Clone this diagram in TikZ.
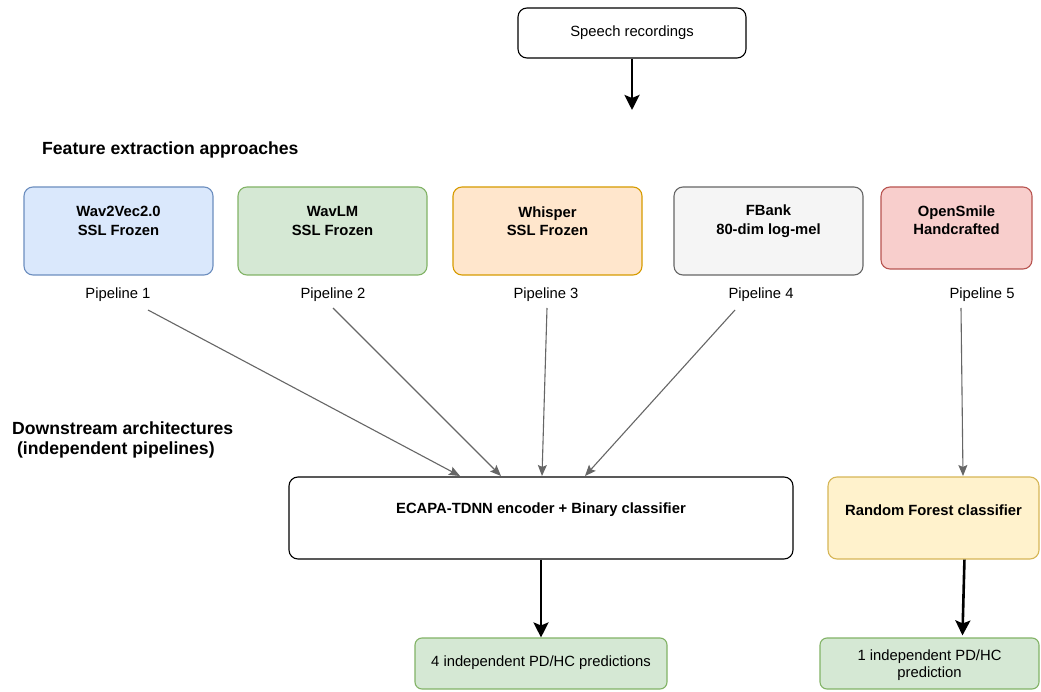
\documentclass[tikz,border=0pt]{standalone}
\usepackage{fontspec}
\setmainfont{Liberation Sans}
\usetikzlibrary{arrows.meta,calc}
\definecolor{bluef}{HTML}{DAE8FC}\definecolor{blues}{HTML}{6C8EBF}
\definecolor{greenf}{HTML}{D5E8D4}\definecolor{greens}{HTML}{82B366}
\definecolor{orf}{HTML}{FFE6CC}\definecolor{ors}{HTML}{D79B00}
\definecolor{grf}{HTML}{F5F5F5}\definecolor{grs}{HTML}{666666}
\definecolor{redf}{HTML}{F8CECC}\definecolor{reds}{HTML}{B85450}
\definecolor{yelf}{HTML}{FFF2CC}\definecolor{yels}{HTML}{D6B656}
\definecolor{arrg}{HTML}{666666}
\begin{document}
\begin{tikzpicture}[x=1pt,y=-1pt,
  box/.style={draw,rounded corners=9pt,line width=1.1pt,inner sep=0pt},
  txt/.style={font=\fontsize{14.8}{17.5}\selectfont,align=center,inner sep=0pt},
  btxt/.style={txt,font=\fontsize{14.8}{18.5}\selectfont\bfseries},
  head/.style={font=\fontsize{17.6}{20.5}\selectfont\bfseries,align=left,inner sep=0pt,anchor=west},
  thk/.style={line width=2.6pt,-{Stealth[length=15pt,width=15pt,inset=3pt]}},
  thn/.style={draw=arrg,line width=1.1pt,-{Stealth[length=11pt,width=9pt,inset=2pt]}}]
\useasboundingbox (0,0) rectangle (1041,692);
\fill[white] (0,0) rectangle (1041,692);
% top
\node[box,fill=white,minimum width=228pt,minimum height=50pt] (sp) at (632,33) {};
\node[txt] (spt) at (632,33) {Speech recordings};
\coordinate (spend) at (632,110);
\draw[thk] (sp.south) -- (spend);
\node[head] (h1) at (42,150) {Feature extraction approaches};
% feature boxes
\node[box,fill=bluef,draw=blues,minimum width=189pt,minimum height=88pt] (b1) at (118.5,231) {};
\node[btxt] (b1t) at (118.5,221) {Wav2Vec2.0\\SSL Frozen};
\node[box,fill=greenf,draw=greens,minimum width=189pt,minimum height=88pt] (b2) at (332.5,231) {};
\node[btxt] (b2t) at (332.5,221) {WavLM\\SSL Frozen};
\node[box,fill=orf,draw=ors,minimum width=189pt,minimum height=88pt] (b3) at (547.5,231) {};
\node[btxt] (b3t) at (547.5,221) {Whisper\\SSL Frozen};
\node[box,fill=grf,draw=grs,minimum width=189pt,minimum height=88pt] (b4) at (768.5,231) {};
\node[btxt] (b4t) at (768.5,221) {FBank\\80-dim log-mel};
\node[box,fill=redf,draw=reds,minimum width=151pt,minimum height=82pt] (b5) at (956.5,228) {};
\node[btxt] (b5t) at (956.5,220) {OpenSmile\\Handcrafted};
% pipeline labels
\node[txt] (p1) at (118,295) {Pipeline 1};
\node[txt] (p2) at (333,295) {Pipeline 2};
\node[txt] (p3) at (546,295) {Pipeline 3};
\node[txt] (p4) at (761,295) {Pipeline 4};
\node[txt] (p5) at (982,295) {Pipeline 5};
% downstream
\node[head] (h2) at (12,440) {Downstream architectures\\\ (independent pipelines)};
\node[box,fill=white,draw=black,minimum width=504pt,minimum height=82pt] (ec) at (541,518) {};
\node[btxt] (ect) at (541,510) {ECAPA-TDNN encoder + Binary classifier};
\node[box,fill=yelf,draw=yels,minimum width=211pt,minimum height=82pt] (rf) at (933.5,518) {};
\node[btxt] (rft) at (933.5,510) {Random Forest classifier};
% outputs
\node[box,fill=greenf,draw=greens,minimum width=252pt,minimum height=51pt,rounded corners=7pt] (o1) at (541,663.5) {};
\node[txt] (o1t) at (541,663) {4 independent PD/HC predictions};
\node[box,fill=greenf,draw=greens,minimum width=219pt,minimum height=51pt,rounded corners=7pt] (o2) at (929.5,663.5) {};
\node[txt] (o2t) at (929.5,665) {1 independent PD/HC\\prediction};
% gray arrows
\coordinate (s1) at (148,310); \coordinate (e1) at (460,476);
\coordinate (s2) at (333,308); \coordinate (e2) at (501,476);
\coordinate (s3) at (547,308); \coordinate (e3) at (542,476);
\coordinate (s4) at (735,310); \coordinate (e4) at (585,476);
\coordinate (s5) at (961,308); \coordinate (e5) at (963,476);
\draw[thn] (s1) -- (e1);
\draw[thn] (s2) -- (e2);
\draw[thn] (s3) -- (e3);
\draw[thn] (s4) -- (e4);
\draw[thn] (s5) -- (e5);
% thick output arrows
\draw[thk] (ec.south) -- (o1.north);
\draw[thk] ($(rf.south west)+(137,0)$) -- ($(o2.north west)+(143,-2)$);
\end{tikzpicture}
\end{document}
